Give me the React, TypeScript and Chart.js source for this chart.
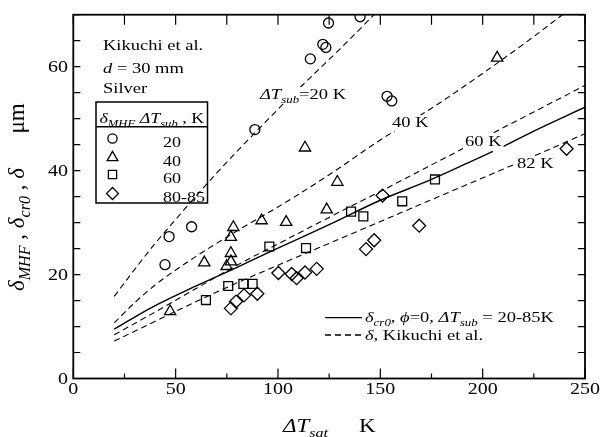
import React, { useEffect, useRef } from 'react';
import { Chart, registerables } from 'chart.js';

Chart.register(...registerables);

// ---------- data ----------
const xTickLabels = [0, 50, 100, 150, 200, 250];
const yTickLabels = [0, 20, 40, 60];

// ΔTsub = 20 K (circles)
const circX = [44.8, 46.8, 57.8, 88.7, 115.8, 121.9, 123.4, 124.7, 140.1, 153.3, 155.6];
const circY = [21.9, 27.3, 29.2, 47.9, 61.5, 64.3, 63.7, 68.4, 69.6, 54.3, 53.4];

// ΔTsub = 40 K (triangles)
const triX = [47.3, 64.0, 74.9, 77.0, 77.0, 77.0, 78.2, 92.0, 104.0, 113.2, 123.8, 129.0, 207.1];
const triY = [12.9, 22.3, 21.6, 22.5, 24.1, 27.2, 29.1, 30.4, 30.1, 44.4, 32.5, 37.8, 61.7];

// ΔTsub = 60 K (squares)
const sqX = [64.8, 75.7, 83.1, 87.6, 95.8, 113.7, 135.7, 141.7, 160.7, 176.7];
const sqY = [15.1, 17.8, 18.2, 18.2, 25.4, 25.1, 32.1, 31.2, 34.1, 38.3];

// ΔTsub = 80-85 K (diamonds)
const diaX = [77.0, 79.5, 83.4, 89.9, 100.2, 106.7, 109.1, 113.2, 118.9, 143.0, 147.0, 151.1, 169.0, 241.0];
const diaY = [13.5, 14.8, 16.0, 16.3, 20.3, 20.1, 19.3, 20.4, 21.1, 24.9, 26.6, 35.2, 29.4, 44.2];

// δcr0 (solid) – null marks the break in the drawn curve
const solidX = [20, 30, 40, 60, 80, 100, 125, 150, 175, 200, 205, 207, 210, 225, 250];
const solidY = [9.5, 11.8, 14.0, 17.8, 21.4, 25.1, 29.6, 34.3, 38.3, 42.8, 43.7, null, 44.6, 47.6, 52.2];

// δ Kikuchi et al. (dashed)
const k20X = [20, 30, 40, 50, 60, 70, 80, 90, 100, 115, 130, 147];
const k20Y = [15.8, 21.0, 26.0, 30.6, 35.1, 39.5, 43.7, 47.8, 51.8, 57.6, 63.3, 70];
const k40X = [20, 30, 40, 60, 80, 100, 125, 150, 175, 200, 225, 239];
const k40Y = [10.7, 14.6, 18.0, 23.5, 28.4, 33.0, 39.2, 45.9, 52.0, 58.7, 65.8, 70];
const k60X = [20, 40, 60, 80, 100, 125, 150, 175, 200, 225, 250];
const k60Y = [8.4, 12.8, 17.3, 21.8, 25.9, 31.0, 36.0, 41.1, 46.2, 51.3, 56.4];
const k82X = [20, 30, 40, 60, 80, 100, 125, 150, 175, 200, 225, 250];
const k82Y = [7.2, 9.1, 11.0, 14.8, 18.4, 21.8, 26.0, 30.2, 34.4, 38.6, 42.8, 47.1];

const legendLabels = ['20', '40', '60', '80-85'];

// ---------- helpers ----------
const FAM = '"Liberation Serif", "Times New Roman", serif';
type Run = { t: string; i?: boolean; s?: boolean };

const zip = (xs: number[], ys: (number | null)[]) => xs.map((x, k) => ({ x, y: ys[k] }));

function fontOf(r: Run, size: number) {
  return `${r.i ? 'italic ' : ''}${r.s ? size * 0.7 : size}px ${FAM}`;
}
function richWidth(ctx: CanvasRenderingContext2D, runs: Run[], size: number) {
  let w = 0;
  for (const r of runs) {
    ctx.font = fontOf(r, size);
    w += ctx.measureText(r.t).width;
  }
  return w;
}
function drawRich(
  ctx: CanvasRenderingContext2D,
  runs: Run[],
  x: number,
  y: number,
  size: number,
  opt: { align?: 'left' | 'center' | 'right'; sy?: number; rot?: boolean; bg?: boolean } = {}
) {
  const sy = opt.sy ?? 0.82;
  const w = richWidth(ctx, runs, size);
  ctx.save();
  ctx.translate(x, y);
  if (opt.rot) ctx.rotate(-Math.PI / 2);
  ctx.scale(1, sy);
  let cx = opt.align === 'center' ? -w / 2 : opt.align === 'right' ? -w : 0;
  if (opt.bg) {
    ctx.fillStyle = '#fff';
    ctx.fillRect(cx - 2, -size * 0.78, w + 4, size * 1.05);
  }
  ctx.fillStyle = '#000';
  ctx.textBaseline = 'alphabetic';
  ctx.textAlign = 'left';
  for (const r of runs) {
    ctx.font = fontOf(r, size);
    ctx.fillText(r.t, cx, r.s ? size * 0.28 : 0);
    cx += ctx.measureText(r.t).width;
  }
  ctx.restore();
}

function marker(ctx: CanvasRenderingContext2D, style: string, x: number, y: number, r: number) {
  ctx.beginPath();
  if (style === 'circle') {
    ctx.arc(x, y, r, 0, Math.PI * 2);
  } else if (style === 'triangle') {
    for (let k = 0; k < 3; k++) {
      const a = (k * 2 * Math.PI) / 3;
      const px = x + Math.sin(a) * r;
      const py = y - Math.cos(a) * r;
      if (k === 0) ctx.moveTo(px, py);
      else ctx.lineTo(px, py);
    }
    ctx.closePath();
  } else if (style === 'rect') {
    const h = r * Math.SQRT1_2;
    ctx.rect(x - h, y - h, 2 * h, 2 * h);
  } else {
    ctx.moveTo(x, y - r);
    ctx.lineTo(x + r, y);
    ctx.lineTo(x, y + r);
    ctx.lineTo(x - r, y);
    ctx.closePath();
  }
  ctx.stroke();
}

const decoPlugin = {
  id: 'deco',
  afterDatasetsDraw(chart: any) {
    const ctx: CanvasRenderingContext2D = chart.ctx;
    // curve labels with white backing
    drawRich(ctx, [{ t: 'Δ', i: true }, { t: 'T', i: true }, { t: 'sub', i: true, s: true }, { t: '=20 K' }], 260, 99, 18.5, { bg: true });
    drawRich(ctx, [{ t: '40 K' }], 392, 127, 18.5, { bg: true });
    drawRich(ctx, [{ t: '60 K' }], 465, 145.5, 18.5, { bg: true });
    drawRich(ctx, [{ t: '82 K' }], 517, 168, 18.5, { bg: true });
  },
  afterDraw(chart: any) {
    const ctx: CanvasRenderingContext2D = chart.ctx;
    const { left, right, top, bottom } = chart.chartArea;
    const xs = chart.scales.x;
    const ys = chart.scales.y;
    ctx.save();
    ctx.strokeStyle = '#000';
    // frame
    ctx.lineWidth = 1.8;
    ctx.strokeRect(left, top, right - left, bottom - top);
    // ticks
    ctx.lineWidth = 1.2;
    ctx.beginPath();
    for (let v = 0; v <= 250; v += 25) {
      const px = xs.getPixelForValue(v);
      const major = v % 50 === 0;
      ctx.moveTo(px, bottom);
      ctx.lineTo(px, bottom - (major ? 10 : 5));
      ctx.moveTo(px, top);
      ctx.lineTo(px, top + 10);
    }
    for (let v = 0; v <= 70; v += 5) {
      const py = ys.getPixelForValue(v);
      ctx.moveTo(left, py);
      ctx.lineTo(left + 7, py);
      ctx.moveTo(right, py);
      ctx.lineTo(right - 7, py);
    }
    ctx.stroke();

    // tick labels
    for (const v of xTickLabels) {
      drawRich(ctx, [{ t: String(v) }], xs.getPixelForValue(v), 394, 20, { align: 'center' });
    }
    for (const v of yTickLabels) {
      drawRich(ctx, [{ t: String(v) }], 68, ys.getPixelForValue(v) + 5.8, 20, { align: 'right' });
    }

    // axis titles
    drawRich(ctx, [{ t: 'Δ', i: true }, { t: 'T', i: true }, { t: 'sat', i: true, s: true }], 283, 432, 23);
    drawRich(ctx, [{ t: 'K' }], 359, 432, 23);
    drawRich(
      ctx,
      [
        { t: 'δ', i: true },
        { t: 'MHF', i: true, s: true },
        { t: ' , ' },
        { t: 'δ', i: true },
        { t: 'cr0', i: true, s: true },
        { t: ' , ' },
        { t: 'δ', i: true },
        { t: '      μm' },
      ],
      24,
      291,
      23,
      { rot: true, sy: 1 }
    );

    // top-left annotation
    drawRich(ctx, [{ t: 'Kikuchi et al.' }], 103, 50, 18.5);
    drawRich(ctx, [{ t: 'd', i: true }, { t: ' = 30 mm' }], 103, 73, 18.5);
    drawRich(ctx, [{ t: 'Silver' }], 103, 93, 18.5);

    // legend box
    ctx.lineWidth = 1.5;
    ctx.strokeRect(96, 102, 111.5, 101);
    ctx.beginPath();
    ctx.moveTo(96, 126.7);
    ctx.lineTo(207.5, 126.7);
    ctx.stroke();
    drawRich(
      ctx,
      [
        { t: 'δ', i: true },
        { t: 'MHF', i: true, s: true },
        { t: ' ' },
        { t: 'Δ', i: true },
        { t: 'T', i: true },
        { t: 'sub', i: true, s: true },
        { t: ' , K' },
      ],
      99.5,
      122.5,
      18
    );
    const styles = ['circle', 'triangle', 'rect', 'rectRot'];
    const rs = [4.6, 6.2, 5.8, 6];
    const rowY = [138.5, 157.5, 174.5, 193.5];
    ctx.lineWidth = 1.3;
    for (let k = 0; k < 4; k++) {
      marker(ctx, styles[k], 112.5, rowY[k], rs[k]);
      drawRich(ctx, [{ t: legendLabels[k] }], 163, rowY[k] + 8, 18);
    }

    // lower-right legend
    ctx.lineWidth = 1.3;
    ctx.beginPath();
    ctx.moveTo(325, 317.7);
    ctx.lineTo(362, 317.7);
    ctx.stroke();
    ctx.setLineDash([6, 4]);
    ctx.beginPath();
    ctx.moveTo(325, 335);
    ctx.lineTo(362, 335);
    ctx.stroke();
    ctx.setLineDash([]);
    drawRich(
      ctx,
      [
        { t: 'δ', i: true },
        { t: 'cr0', i: true, s: true },
        { t: ', ' },
        { t: 'ϕ', i: true },
        { t: '=0, ' },
        { t: 'Δ', i: true },
        { t: 'T', i: true },
        { t: 'sub', i: true, s: true },
        { t: ' = 20-85K' },
      ],
      365,
      322,
      18.5
    );
    drawRich(ctx, [{ t: 'δ', i: true }, { t: ', Kikuchi et al.' }], 365, 339.5, 18.5);
    ctx.restore();
  },
};

function pointSet(xs: number[], ys: number[], style: string, r: number) {
  return {
    data: zip(xs, ys),
    pointStyle: style,
    pointRadius: r,
    pointBorderWidth: 1.3,
    pointBorderColor: '#000',
    pointBackgroundColor: 'rgba(0,0,0,0)',
    showLine: false,
  };
}
function lineSet(xs: number[], ys: (number | null)[], dashed: boolean) {
  return {
    data: zip(xs, ys),
    showLine: true,
    pointRadius: 0,
    borderColor: '#000',
    borderWidth: dashed ? 1.1 : 1.4,
    borderDash: dashed ? [6, 4] : [],
    cubicInterpolationMode: 'monotone' as const,
    spanGaps: false,
    fill: false,
  };
}

export default function App() {
  const ref = useRef<HTMLCanvasElement>(null);
  useEffect(() => {
    const canvas = ref.current;
    if (!canvas) return;
    let alive = true;
    const chart = new Chart(canvas, {
      type: 'scatter',
      data: {
        datasets: [
          pointSet(circX, circY, 'circle', 5),
          pointSet(triX, triY, 'triangle', 6.5),
          pointSet(sqX, sqY, 'rect', 6.3),
          pointSet(diaX, diaY, 'rectRot', 6.5),
          lineSet(solidX, solidY, false),
          lineSet(k20X, k20Y, true),
          lineSet(k40X, k40Y, true),
          lineSet(k60X, k60Y, true),
          lineSet(k82X, k82Y, true),
        ] as any,
      },
      options: {
        animation: false,
        responsive: false,
        maintainAspectRatio: false,
        devicePixelRatio: 1,
        layout: { padding: { top: 14.7, right: 18, left: 0, bottom: 0 } },
        plugins: { legend: { display: false }, tooltip: { enabled: false } },
        scales: {
          x: {
            type: 'linear',
            min: 0,
            max: 250,
            ticks: { display: false },
            grid: { display: false },
            border: { display: false },
            afterFit: (s: any) => {
              s.height = 58.5;
              s.paddingLeft = 0;
              s.paddingRight = 0;
            },
          },
          y: {
            type: 'linear',
            min: 0,
            max: 70,
            ticks: { display: false },
            grid: { display: false },
            border: { display: false },
            afterFit: (s: any) => {
              s.width = 73.3;
              s.paddingTop = 0;
              s.paddingBottom = 0;
            },
          },
        },
      } as any,
      plugins: [decoPlugin],
    });
    const fonts = (document as any).fonts;
    if (fonts && fonts.load) {
      Promise.all([
        fonts.load('18px "Liberation Serif"'),
        fonts.load('italic 18px "Liberation Serif"'),
      ])
        .then(() => {
          if (alive) chart.draw();
        })
        .catch(() => {});
    }
    return () => {
      alive = false;
      chart.destroy();
    };
  }, []);
  return (
    <div style={{ position: 'absolute', left: 0, top: 0, width: 603, height: 437, background: '#fff' }}>
      <canvas ref={ref} width={603} height={437} style={{ display: 'block', width: 603, height: 437 }} />
    </div>
  );
}
